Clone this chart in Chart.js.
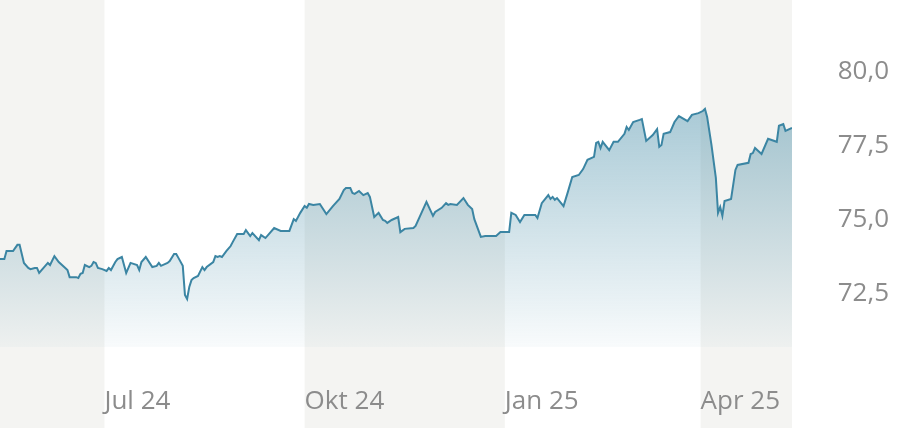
<!DOCTYPE html>
<html>
<head>
<meta charset="utf-8">
<script src="https://cdn.jsdelivr.net/npm/chart.js@4"></script>
<style>
  html, body { margin: 0; padding: 0; background: #ffffff; }
  #wrap { width: 902px; height: 428px; }
</style>
</head>
<body>
<div id="wrap"><canvas id="chart" width="902" height="428"></canvas></div>
<script>
// Days are counted from 1 Jul 2024 (negative = May/June 2024)
const days = [
    -48, -46, -45, -42, -40, -39, -37, -35, -34, -32, -31, -30, -28, -26, -25, -23, -21, -18, -17, -16,
    -13, -12, -11, -10, -9, -7, -6, -5, -4, -3, -1,
    1, 2, 3, 5, 6, 8, 10, 12, 15, 16, 17, 19, 22, 24, 25, 26, 29, 30, 32, 33,
    34, 36, 37, 38, 39, 40, 41, 43, 45, 46, 47, 50, 51, 52, 53, 54, 56, 58, 59, 61,
    64, 65, 67, 68, 71, 72, 74, 78, 81, 85, 87, 88, 90,
    92, 93, 94, 96, 99, 102, 105, 108, 110, 111, 113, 114, 115, 117, 119, 121, 122, 124, 126, 128,
    129, 130, 132, 135, 136, 138, 142, 143, 148, 151, 152, 155, 157, 158, 159, 162, 165, 167, 169, 170,
    173, 175, 180, 182,
    186, 187, 189, 191, 193, 198, 199, 201, 204, 205, 206, 207, 208, 211, 213, 215, 218, 220, 222, 225,
    226, 227, 228, 229, 232, 234, 236, 239, 240, 241, 243, 246, 247, 249, 252, 254, 255, 256, 257, 260,
    262, 264, 268, 270, 273,
    275, 276, 277, 279, 281, 282, 283, 284, 285, 288, 290, 291, 296, 297, 298, 299, 302, 305, 309, 310,
    312, 313, 316
];

const prices = [
    73.68, 73.68, 73.95, 73.95, 74.16, 74.16, 73.55, 73.38, 73.34, 73.38, 73.38, 73.21, 73.38, 73.55, 73.48, 73.78, 73.58, 73.38, 73.31, 73.07,
    73.07, 73.04, 73.18, 73.21, 73.48, 73.41, 73.45, 73.58, 73.55, 73.38, 73.34,
    73.28, 73.38, 73.31, 73.58, 73.68, 73.75, 73.21, 73.55, 73.48, 73.31, 73.58, 73.75, 73.41, 73.45, 73.55, 73.45, 73.55, 73.61, 73.85, 73.85,
    73.72, 73.45, 72.47, 72.33, 72.74, 72.97, 73.04, 73.11, 73.41, 73.31, 73.41, 73.58, 73.78, 73.75, 73.78, 73.75, 73.95, 74.12, 74.26, 74.53,
    74.53, 74.66, 74.46, 74.56, 74.32, 74.49, 74.39, 74.73, 74.63, 74.63, 75.03, 74.97, 75.24,
    75.47, 75.41, 75.54, 75.51, 75.54, 75.20, 75.47, 75.71, 76.01, 76.08, 76.08, 75.91, 75.88, 75.98, 75.84, 75.91, 75.78, 75.10, 75.24, 75.00,
    74.97, 74.90, 75.00, 75.10, 74.59, 74.70, 74.73, 74.80, 75.61, 75.14, 75.27, 75.41, 75.57, 75.51, 75.54, 75.51, 75.74, 75.51, 75.37, 75.03,
    74.43, 74.46, 74.46, 74.59,
    74.59, 75.24, 75.17, 74.93, 75.17, 75.17, 75.07, 75.57, 75.84, 75.71, 75.78, 75.68, 75.74, 75.47, 75.95, 76.45, 76.52, 76.72, 77.03, 77.13,
    77.60, 77.64, 77.43, 77.64, 77.36, 77.64, 77.64, 77.91, 78.14, 78.04, 78.31, 78.38, 78.41, 77.67, 77.87, 78.07, 77.47, 77.53, 77.91, 77.97,
    78.31, 78.51, 78.34, 78.55, 78.61,
    78.68, 78.75, 78.48, 77.53, 76.42, 75.24, 75.44, 75.14, 75.64, 75.71, 76.69, 76.86, 76.93, 77.23, 77.26, 77.43, 77.23, 77.74, 77.64, 78.18,
    78.24, 78.01, 78.11
];

// Axis ticks
const xTickDays = [0, 92, 184, 274];
const xTickLabels = ['Jul 24', 'Okt 24', 'Jan 25', 'Apr 25'];
const yTickValues = [72.5, 75, 77.5, 80];

// Quarters drawn with a grey background (in days, same origin as above)
const shadedRanges = [[-48, 0], [92, 184], [274, 316]];

const FONT = "'Open Sans', 'Noto Sans', sans-serif";
const TEXT_COLOR = '#8c8c8c';

// Grey background bands behind alternate quarters
const quarterBands = {
    id: 'quarterBands',
    beforeDraw(chart) {
        const { ctx, chartArea, scales } = chart;
        const x = scales.x;
        ctx.save();
        ctx.fillStyle = '#f4f4f2';
        shadedRanges.forEach(([from, to]) => {
            const x1 = Math.max(x.getPixelForValue(from), chartArea.left);
            const x2 = Math.min(x.getPixelForValue(to), chartArea.right);
            ctx.fillRect(x1, 0, x2 - x1, chart.height);
        });
        ctx.restore();
    }
};

function areaGradient(context) {
    const { ctx, chartArea } = context.chart;
    if (!chartArea) {
        return null;
    }
    const g = ctx.createLinearGradient(0, chartArea.top, 0, chartArea.bottom);
    g.addColorStop(0, 'rgba(45, 125, 155, 0.58)');
    g.addColorStop(1, 'rgba(45, 125, 155, 0.03)');
    return g;
}

const points = days.map((d, i) => ({ x: d, y: prices[i] }));

new Chart(document.getElementById('chart'), {
    type: 'line',
    data: {
        datasets: [{
            data: points,
            borderColor: '#3b85a3',
            borderWidth: 2,
            backgroundColor: areaGradient,
            fill: 'start',
            pointRadius: 0,
            tension: 0
        }]
    },
    plugins: [quarterBands],
    options: {
        responsive: false,
        animation: false,
        devicePixelRatio: 1,
        layout: { padding: { left: 0, top: 0, right: 13, bottom: 0 } },
        plugins: {
            legend: { display: false },
            tooltip: { enabled: false }
        },
        scales: {
            x: {
                type: 'linear',
                min: -48,
                max: 316,
                grid: { display: false },
                border: { display: false },
                afterBuildTicks: (scale) => {
                    scale.ticks = xTickDays.map(v => ({ value: v }));
                },
                afterFit: (scale) => {
                    scale.height = 81;
                    scale.paddingLeft = 0;
                    scale.paddingRight = 0;
                },
                ticks: {
                    align: 'start',
                    autoSkip: false,
                    maxRotation: 0,
                    padding: 31,
                    color: TEXT_COLOR,
                    font: { family: FONT, size: 26 },
                    callback: (value, index) => xTickLabels[index]
                }
            },
            y: {
                position: 'right',
                min: 70.71,
                max: 82.43,
                grid: { display: false },
                border: { display: false },
                afterBuildTicks: (scale) => {
                    scale.ticks = yTickValues.map(v => ({ value: v }));
                },
                afterFit: (scale) => {
                    scale.width = 97;
                    // the chart area runs to the very top of the canvas
                    scale.paddingTop = 0;
                    scale.paddingBottom = 0;
                },
                ticks: {
                    crossAlign: 'far',
                    padding: 0,
                    color: TEXT_COLOR,
                    font: { family: FONT, size: 26 },
                    callback: (value) => value.toFixed(1).replace('.', ',')
                }
            }
        }
    }
});
</script>
</body>
</html>
